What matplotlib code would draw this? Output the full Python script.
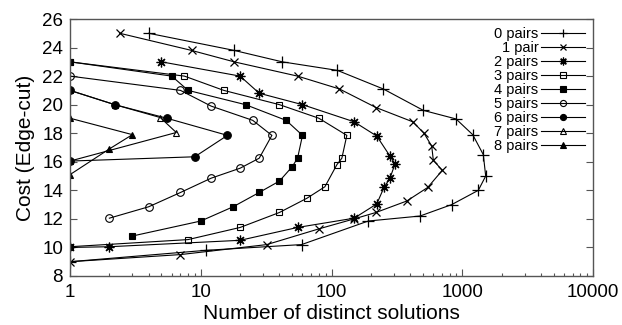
import matplotlib
matplotlib.use("Agg")
import matplotlib.pyplot as plt
from matplotlib.ticker import FixedLocator, FixedFormatter, LogLocator, NullFormatter

plt.rcParams['font.family'] = ['Liberation Sans', 'DejaVu Sans']

labels = ["0 pairs", "1 pair", "2 pairs", "3 pairs", "4 pairs",
          "5 pairs", "6 pairs", "7 pairs", "8 pairs"]

p0_x = [4, 18, 42, 111, 249, 504, 896, 1202, 1449, 1511, 1327, 830, 475, 191, 59, 11, 1]
p0_y = [25, 23.8, 23, 22.4, 21.1, 19.6, 19.0, 17.9, 16.5, 15.0, 14.0, 13.0, 12.2, 11.85, 10.2, 9.8, 9]

p1_x = [2.4, 8.5, 18, 55, 115, 219, 418, 510, 584, 601, 704, 544, 376, 219, 149, 80, 32, 7, 1]
p1_y = [25, 23.8, 23, 22, 21.1, 19.8, 18.8, 18.0, 17.1, 16.1, 15.4, 14.2, 13.25, 12.45, 12.0, 11.3, 10.2, 9.5, 9]

p2_x = [5, 20, 28, 60, 149, 222, 280, 306, 280, 252, 222, 149, 55, 20, 2, 1]
p2_y = [23, 22, 20.8, 20, 18.8, 17.8, 16.4, 15.85, 14.85, 14.2, 13.05, 12.05, 11.4, 10.5, 10.05, 10]

p3_x = [1, 7.5, 15, 40, 80, 131, 120, 110, 89, 65, 40, 20, 8, 1]
p3_y = [23, 22, 21, 20, 19.05, 17.85, 16.25, 15.8, 14.25, 13.45, 12.45, 11.4, 10.55, 10.05]

p4_x = [1, 6, 8, 22, 45, 60, 55, 50, 40, 28, 17.7, 10, 3]
p4_y = [23, 22, 21, 20, 18.9, 17.85, 16.25, 15.65, 14.65, 13.85, 12.85, 11.85, 10.8]

p5_x = [1, 7, 12, 25, 35, 28, 20, 12, 7, 4, 2]
p5_y = [22, 21, 19.9, 18.9, 17.85, 16.25, 15.55, 14.85, 13.85, 12.85, 12.05]

p6_x = [1, 2.2, 5.5, 16, 9, 1]
p6_y = [21, 20, 19.05, 17.85, 16.35, 16.05]

p7_x = [1, 2.2, 4.9, 6.5, 1]
p7_y = [21, 20, 19.1, 18.05, 16.05]

p8_x = [1, 3, 2, 1]
p8_y = [19.05, 17.9, 16.9, 15.1]

series = [(p0_x, p0_y), (p1_x, p1_y), (p2_x, p2_y), (p3_x, p3_y), (p4_x, p4_y),
          (p5_x, p5_y), (p6_x, p6_y), (p7_x, p7_y), (p8_x, p8_y)]

x_ticks = [1, 10, 100, 1000, 10000]
x_ticklabels = ["1", "10", "100", "1000", "10000"]
y_ticks = [8, 10, 12, 14, 16, 18, 20, 22, 24, 26]

styles = [
    dict(marker='+', ms=8, mfc='none', mew=0.9),
    dict(marker='x', ms=5.5, mfc='none', mew=0.9),
    dict(marker=(8, 2, 0), ms=7, mfc='none', mew=0.9),
    dict(marker='s', ms=5, mfc='none', mew=0.8),
    dict(marker='s', ms=5, mfc='black', mew=0.8),
    dict(marker='o', ms=5.5, mfc='none', mew=0.8),
    dict(marker='o', ms=5.5, mfc='black', mew=0.8),
    dict(marker='^', ms=5, mfc='none', mew=0.8),
    dict(marker='^', ms=5, mfc='black', mew=0.8),
]

fig = plt.figure(figsize=(6.22, 3.25), dpi=100)
ax = fig.add_axes([70/622, 49/325, 523/622, 257/325])

for (xs, ys), lab, st in zip(series, labels, styles):
    ax.plot(xs, ys, color='black', lw=0.8, mec='black', label=lab, **st)

ax.set_xscale('log')
ax.set_xlim(1, 10000)
ax.set_ylim(8, 26)
ax.xaxis.set_major_locator(FixedLocator(x_ticks))
ax.xaxis.set_major_formatter(FixedFormatter(x_ticklabels))
ax.xaxis.set_minor_locator(LogLocator(base=10, subs=range(2, 10)))
ax.xaxis.set_minor_formatter(NullFormatter())
ax.set_yticks(y_ticks)

ax.tick_params(axis='both', which='major', direction='in', length=5, width=0.8,
               color='#555555', labelsize=13.5)
ax.tick_params(axis='x', which='major', pad=6)
ax.tick_params(axis='y', which='major', pad=5)
ax.tick_params(axis='x', which='minor', direction='in', length=2.5, width=0.8, color='#555555')
ax.tick_params(axis='y', which='both', right=True)
ax.tick_params(axis='x', which='both', top=False)
for s in ax.spines.values():
    s.set_color('#555555')
    s.set_linewidth(1.0)

ax.set_xlabel("Number of distinct solutions", fontsize=15, labelpad=2)
ax.set_ylabel("Cost (Edge-cut)", fontsize=15, labelpad=5)

leg = ax.legend(loc='upper right', bbox_to_anchor=(0.985, 0.968), markerfirst=False,
                frameon=False, fontsize=10.5, handlelength=3.0, handletextpad=0.2,
                labelspacing=0.0, borderpad=0, borderaxespad=0)
for h in leg.legend_handles:
    h.set_markersize(h.get_markersize() * 0.8)

fig.savefig("out.png", dpi=100)
